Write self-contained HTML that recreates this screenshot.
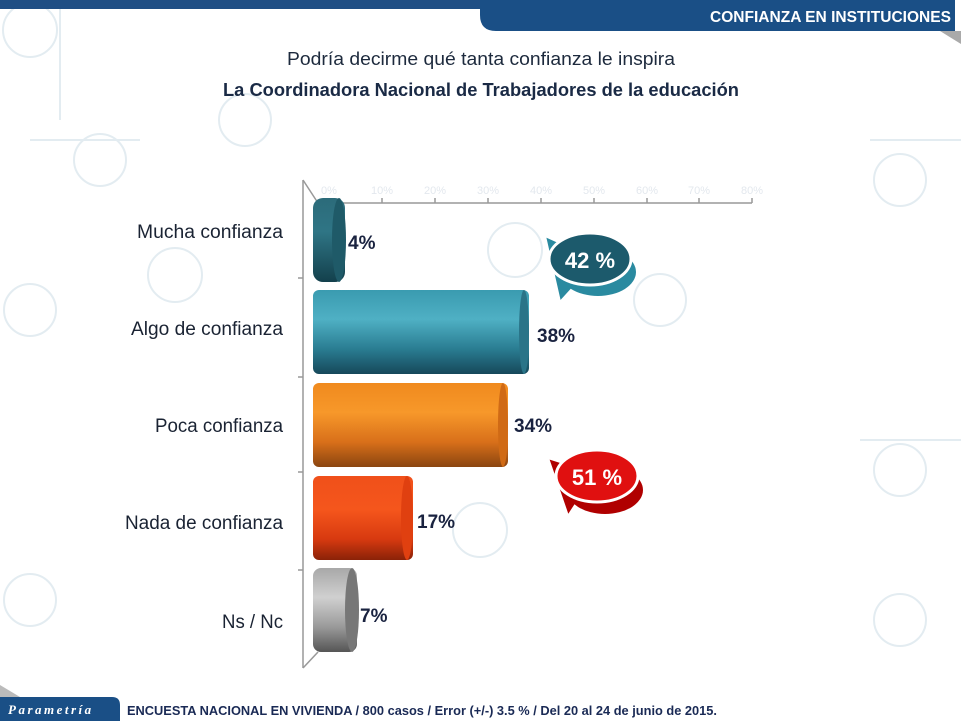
<!DOCTYPE html>
<html><head><meta charset="utf-8"><style>
html,body{margin:0;padding:0;background:#fff;}
svg{display:block;font-family:"Liberation Sans",sans-serif;}
</style></head><body>
<svg width="961" height="721" viewBox="0 0 961 721" xmlns="http://www.w3.org/2000/svg">
<defs>
<linearGradient id="gTeal" x1="0" y1="0" x2="0" y2="1"><stop offset="0" stop-color="#3a9bb0"/><stop offset="0.35" stop-color="#4fb0c4"/><stop offset="0.7" stop-color="#2a7d92"/><stop offset="1" stop-color="#16485a"/></linearGradient>
<linearGradient id="gDark" x1="0" y1="0" x2="0" y2="1"><stop offset="0" stop-color="#2c6b7a"/><stop offset="0.4" stop-color="#2f7585"/><stop offset="1" stop-color="#13404c"/></linearGradient>
<linearGradient id="gOr" x1="0" y1="0" x2="0" y2="1"><stop offset="0" stop-color="#f08a1e"/><stop offset="0.35" stop-color="#f7982a"/><stop offset="0.7" stop-color="#d9701a"/><stop offset="1" stop-color="#8a4510"/></linearGradient>
<linearGradient id="gRed" x1="0" y1="0" x2="0" y2="1"><stop offset="0" stop-color="#f0501a"/><stop offset="0.4" stop-color="#f5561c"/><stop offset="0.75" stop-color="#d83a10"/><stop offset="1" stop-color="#8a2208"/></linearGradient>
<linearGradient id="gGr" x1="0" y1="0" x2="0" y2="1"><stop offset="0" stop-color="#a8a8a8"/><stop offset="0.35" stop-color="#d0d0d0"/><stop offset="0.7" stop-color="#9a9a9a"/><stop offset="1" stop-color="#555"/></linearGradient>
</defs>
<g stroke="#e3ecf1" stroke-width="2" fill="none">
<circle cx="30" cy="30" r="27"/><circle cx="100" cy="160" r="26"/><circle cx="175" cy="275" r="27"/><circle cx="245" cy="120" r="26"/><circle cx="515" cy="250" r="27"/><circle cx="660" cy="300" r="26"/><circle cx="900" cy="180" r="26"/><circle cx="900" cy="470" r="26"/><circle cx="30" cy="310" r="26"/><circle cx="30" cy="600" r="26"/><circle cx="480" cy="530" r="27"/><circle cx="900" cy="620" r="26"/>
<line x1="60" y1="0" x2="60" y2="120"/><line x1="30" y1="140" x2="140" y2="140"/><line x1="870" y1="140" x2="961" y2="140"/><line x1="860" y1="440" x2="961" y2="440"/>
</g>
<rect x="0" y="0" width="490" height="9" fill="#1f4e84"/>
<path d="M480 0 H955 V31 H496 Q480 31 480 15 Z" fill="#1a4f86"/>
<path d="M940 31 L961 31 L961 44 Z" fill="#aaa"/>
<text x="951" y="22" text-anchor="end" fill="#fff" font-weight="bold" font-size="15.5" textLength="241" lengthAdjust="spacingAndGlyphs">CONFIANZA EN INSTITUCIONES</text>
<text x="287" y="65" fill="#1d2a3d" font-size="18.5" textLength="388" lengthAdjust="spacingAndGlyphs">Podría decirme qué tanta confianza le inspira</text>
<text x="223" y="96" fill="#1a2a45" font-size="18.5" font-weight="bold" textLength="516" lengthAdjust="spacingAndGlyphs">La Coordinadora Nacional de Trabajadores de la educación</text>
<g stroke="#999" stroke-width="1.5" fill="none">
<line x1="303" y1="180" x2="303" y2="668"/>
<line x1="303" y1="180" x2="318" y2="203"/>
<line x1="303" y1="668" x2="318" y2="652"/>
<line x1="318" y1="203" x2="752" y2="203"/>
<line x1="298" y1="278" x2="303" y2="278"/><line x1="298" y1="377" x2="303" y2="377"/><line x1="298" y1="472" x2="303" y2="472"/><line x1="298" y1="570" x2="303" y2="570"/>
<line x1="382" y1="203" x2="382" y2="198"/><line x1="435" y1="203" x2="435" y2="198"/><line x1="488" y1="203" x2="488" y2="198"/><line x1="541" y1="203" x2="541" y2="198"/><line x1="594" y1="203" x2="594" y2="198"/><line x1="647" y1="203" x2="647" y2="198"/><line x1="699" y1="203" x2="699" y2="198"/><line x1="752" y1="203" x2="752" y2="198"/>
</g>
<g fill="#e3e8ee" font-size="11" text-anchor="middle">
<text x="329" y="194">0%</text><text x="382" y="194">10%</text><text x="435" y="194">20%</text><text x="488" y="194">30%</text><text x="541" y="194">40%</text><text x="594" y="194">50%</text><text x="647" y="194">60%</text><text x="699" y="194">70%</text><text x="752" y="194">80%</text>
</g>
<rect x="313" y="198" width="32" height="84" rx="10" fill="url(#gDark)"/>
<ellipse cx="339" cy="240" rx="7" ry="42" fill="#1f5a68"/>
<rect x="313" y="290" width="216" height="84" rx="6" fill="url(#gTeal)"/>
<ellipse cx="524" cy="332" rx="5" ry="42" fill="#2a7488"/>
<rect x="313" y="383" width="195" height="84" rx="6" fill="url(#gOr)"/>
<ellipse cx="503" cy="425" rx="5" ry="42" fill="#d06a15"/>
<rect x="313" y="476" width="100" height="84" rx="6" fill="url(#gRed)"/>
<ellipse cx="407" cy="518" rx="6" ry="42" fill="#e04010"/>
<rect x="313" y="568" width="44" height="84" rx="8" fill="url(#gGr)"/>
<ellipse cx="352" cy="610" rx="7" ry="42" fill="#777"/>
<g fill="#1a2333" font-size="19" text-anchor="end">
<text x="283" y="238" textLength="146" lengthAdjust="spacingAndGlyphs">Mucha confianza</text>
<text x="283" y="335" textLength="152" lengthAdjust="spacingAndGlyphs">Algo de confianza</text>
<text x="283" y="432" textLength="128" lengthAdjust="spacingAndGlyphs">Poca confianza</text>
<text x="283" y="529" textLength="158" lengthAdjust="spacingAndGlyphs">Nada de confianza</text>
<text x="283" y="628" textLength="61" lengthAdjust="spacingAndGlyphs">Ns / Nc</text>
</g>
<g fill="#1a2340" font-size="19" font-weight="bold">
<text x="348" y="249">4%</text><text x="537" y="342">38%</text><text x="514" y="432">34%</text><text x="417" y="528">17%</text><text x="360" y="622">7%</text>
</g>
<path d="M545 236 L565 245 L580 280 L560 302 Z" fill="#2a8aa0" stroke="#fff" stroke-width="2"/>
<ellipse cx="598" cy="272" rx="38" ry="24" fill="#2a8aa0"/>
<ellipse cx="590" cy="259" rx="41" ry="26" fill="#1c5a6c" stroke="#fff" stroke-width="3"/>
<text x="590" y="268" text-anchor="middle" fill="#fff" font-weight="bold" font-size="22">42 %</text>
<path d="M548 458 L570 465 L585 490 L568 516 Z" fill="#b00000" stroke="#fff" stroke-width="2"/>
<ellipse cx="605" cy="490" rx="38" ry="24" fill="#b00000"/>
<ellipse cx="597" cy="476" rx="41" ry="26" fill="#e01010" stroke="#fff" stroke-width="3"/>
<text x="597" y="485" text-anchor="middle" fill="#fff" font-weight="bold" font-size="22">51 %</text>
<path d="M0 697 H112 Q120 697 120 705 V721 H0 Z" fill="#1a4f86"/>
<path d="M0 685 L20 697 L0 697 Z" fill="#bbb"/>
<text x="8" y="714" fill="#fff" font-family="Liberation Serif,serif" font-style="italic" font-weight="bold" font-size="13" letter-spacing="2.5">Parametría</text>
<text x="127" y="715" fill="#1a2a55" font-weight="bold" font-size="13" textLength="590" lengthAdjust="spacingAndGlyphs">ENCUESTA NACIONAL EN VIVIENDA / 800 casos / Error (+/-) 3.5 % / Del 20 al 24 de junio de 2015.</text>
</svg>
</body></html>
